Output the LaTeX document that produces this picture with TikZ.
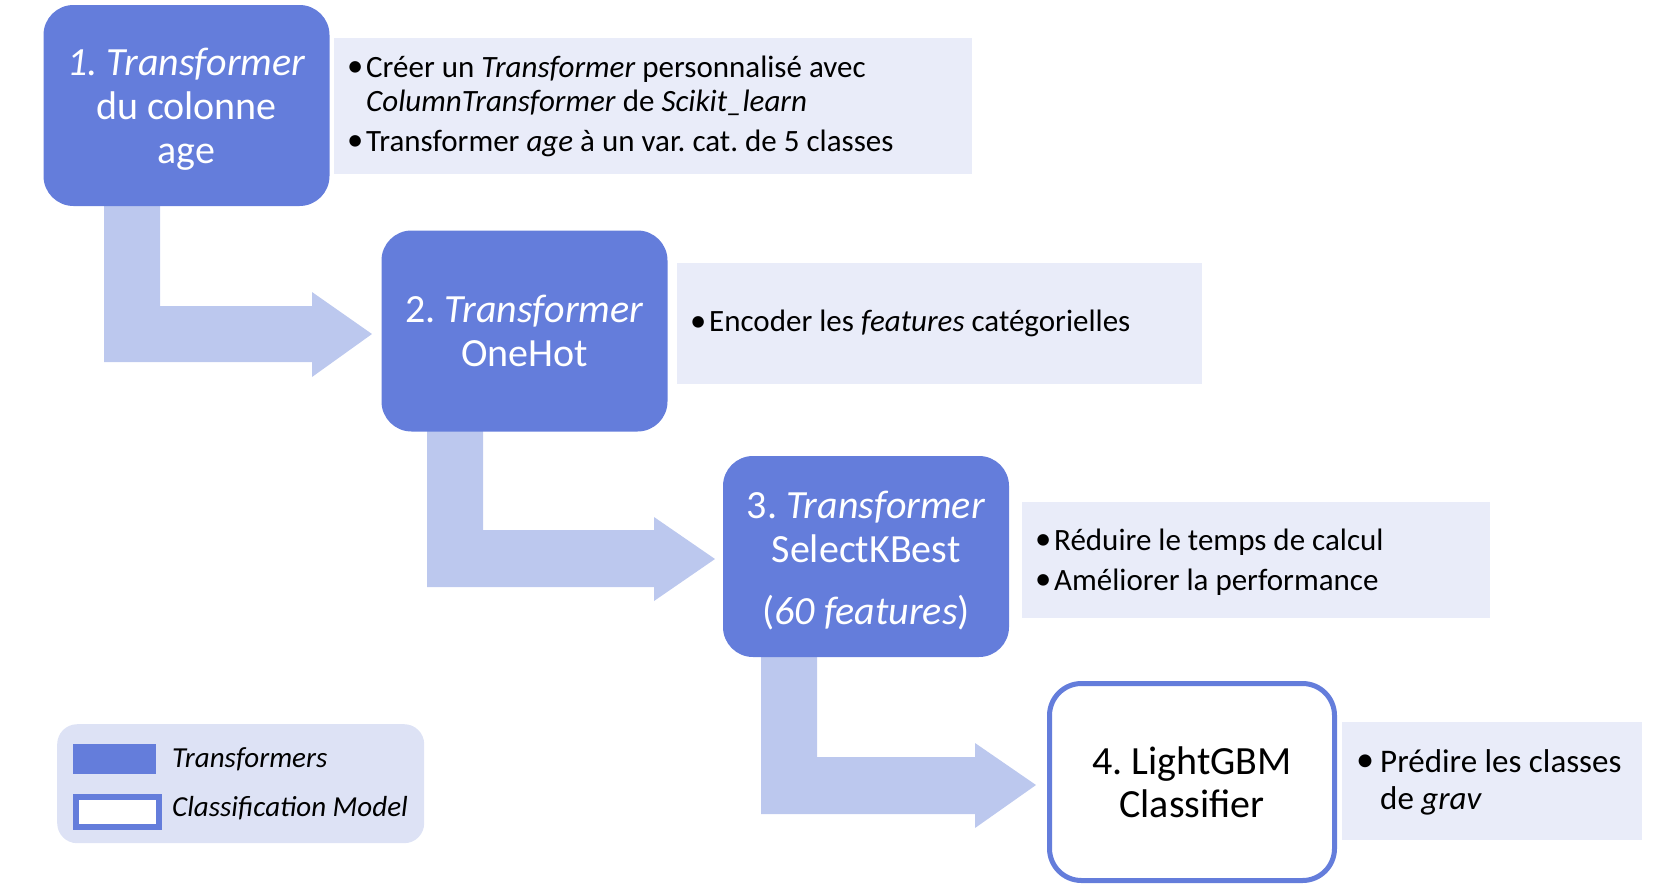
\documentclass[tikz,border=0pt]{standalone}
\usepackage{fontspec}
\setmainfont{Carlito}
\frenchspacing
\definecolor{boxblue}{RGB}{100,125,219}
\definecolor{arrowblue}{RGB}{188,200,238}
\definecolor{descbg}{RGB}{233,236,249}
\definecolor{legendbg}{RGB}{221,226,245}
\newcommand\mybul{\makebox[17pt][l]{\hspace*{-2pt}\raisebox{0.5pt}{\scalebox{1.05}{•}}}}
\newcommand\mybulw{\makebox[22pt][l]{\hspace*{-2pt}\raisebox{0.5pt}{\scalebox{1.1}{•}}}}
\newcommand\topstrut{\rule{0pt}{35pt}}
\begin{document}
\begin{tikzpicture}[x=1pt,y=-1pt,
  tbox/.style={rounded corners=30pt, fill=boxblue, text=white, align=center,
    minimum width=286pt, minimum height=201pt, inner sep=0pt,
    font=\fontsize{40}{44}\selectfont},
  mbox/.style={rounded corners=32pt, fill=white, draw=boxblue, line width=5pt, text=black, align=center,
    minimum width=285pt, minimum height=197pt, inner sep=0pt,
    font=\fontsize{40}{43}\selectfont},
  descbox/.style={fill=descbg, anchor=north west, inner sep=0pt},
  desctext/.style={anchor=west, align=left, inner sep=0pt,
    font=\fontsize{31}{34}\selectfont},
  blockarrow/.style={fill=arrowblue, draw=none},
  legtext/.style={anchor=west, inner sep=0pt, font=\fontsize{29}{32}\selectfont\itshape}
]
\useasboundingbox (0,0) rectangle (1653,889);

% block arrows (behind boxes)
\fill[blockarrow] (104,200) -- (160,200) -- (160,306) -- (312,306) -- (312,292) -- (372,334)
  -- (312,377) -- (312,362) -- (104,362) -- cycle;
\fill[blockarrow] (427,425) -- (483,425) -- (483,530) -- (654,530) -- (654,517) -- (715,559)
  -- (654,601) -- (654,587) -- (427,587) -- cycle;
\fill[blockarrow] (761,650) -- (817,650) -- (817,757) -- (975,757) -- (975,743) -- (1036,785)
  -- (975,828) -- (975,814) -- (761,814) -- cycle;

% stage boxes
\node[tbox] (b1) at (186.5,105.5) {\topstrut\textit{1. Transformer}\\du colonne\\age};
\node[tbox] (b2) at (524.5,331) {2. \textit{Transformer}\\OneHot};
\node[tbox] (b3) at (866,556.5) {\topstrut 3. \textit{Transformer}\\SelectKBest\\[18pt](\textit{60 features})};
\node[mbox] (b4) at (1192,782) {4. LightGBM\\Classifier};

% description boxes
\node[descbox, minimum width=638pt, minimum height=136pt] (d1) at (334,38) {};
\node[desctext] (d1t) at ([xshift=15pt]d1.west)
  {\mybul Créer un \textit{Transformer} personnalisé avec\\
   \hspace*{17pt}\textit{ColumnTransformer} de \textit{Scikit\_learn}\\[6pt]
   \mybul Transformer \textit{age} à un var. cat. de 5 classes};
\node[descbox, minimum width=525pt, minimum height=121pt] (d2) at (677,263) {};
\node[desctext] (d2t) at ([xshift=15pt]d2.west)
  {\mybul Encoder les \textit{features} catégorielles};
\node[descbox, minimum width=468pt, minimum height=116pt] (d3) at (1022,502) {};
\node[desctext] (d3t) at ([xshift=15pt,yshift=-2pt]d3.west)
  {\mybul Réduire le temps de calcul\\[6pt]
   \mybul Améliorer la performance};
\node[descbox, minimum width=300pt, minimum height=118pt] (d4) at (1342,722) {};
\node[desctext, font=\fontsize{33}{37}\selectfont] (d4t) at ([xshift=16pt,yshift=-1pt]d4.west)
  {\mybulw Prédire les classes\\
   \hspace*{22pt}de \textit{grav}};

% legend
\node[fill=legendbg, rounded corners=20pt, minimum width=367pt, minimum height=119pt, inner sep=0pt, anchor=north west] (leg) at (57,724) {};
\node[fill=boxblue, minimum width=83pt, minimum height=30pt, inner sep=0pt, anchor=north west] (legT) at (73,744) {};
\node[fill=white, draw=boxblue, line width=6pt, minimum width=83pt, minimum height=30pt, inner sep=0pt, anchor=north west] (legC) at (73,794) {};
\node[legtext] (legTt) at (172,759) {Transformers};
\node[legtext] (legCt) at (172,808) {Classification Model};
\end{tikzpicture}
\end{document}
